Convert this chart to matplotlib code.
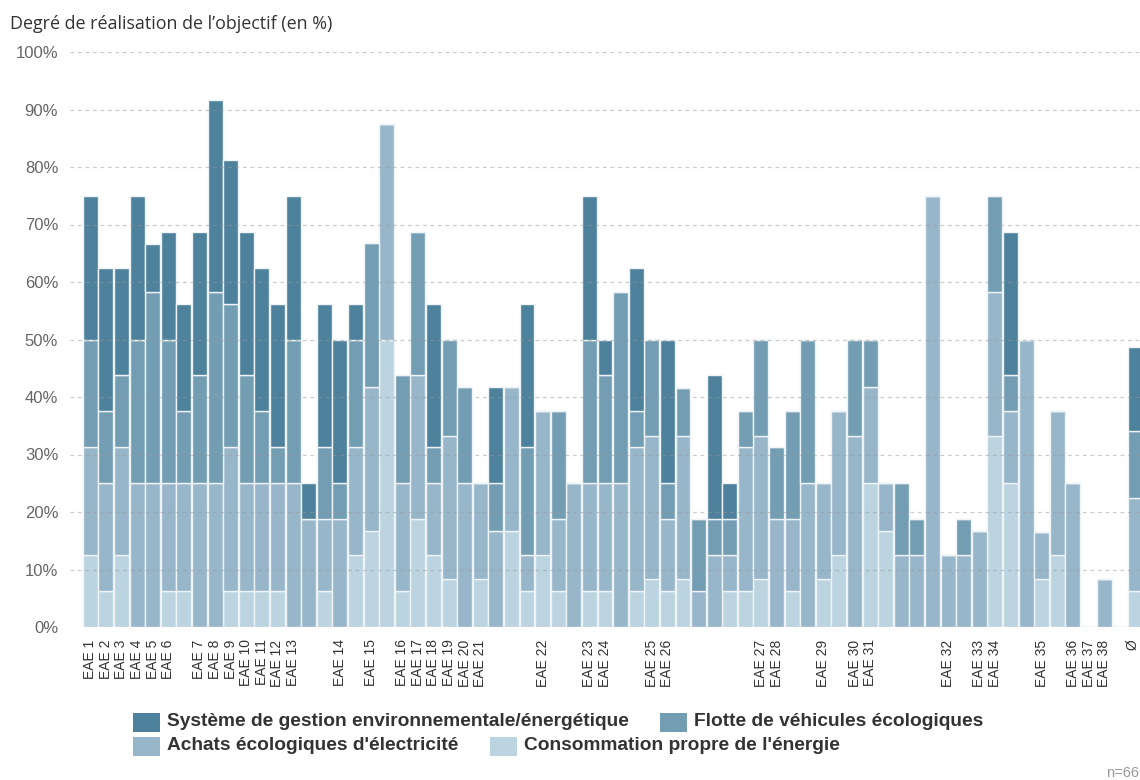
import numpy as np
import matplotlib
matplotlib.use('Agg')
import matplotlib.pyplot as plt
from matplotlib.patches import Rectangle
from matplotlib.transforms import ScaledTranslation

# bar labels ('' = entity without label), last bar is the average
labels = ['EAE 1', 'EAE 2', 'EAE 3', 'EAE 4', 'EAE 5', 'EAE 6', '', 'EAE 7', 'EAE 8', 'EAE 9',
          'EAE 10', 'EAE 11', 'EAE 12', 'EAE 13', '', '', 'EAE 14', '', 'EAE 15', '',
          'EAE 16', 'EAE 17', 'EAE 18', 'EAE 19', 'EAE 20', 'EAE 21', '', '', '', 'EAE 22',
          '', '', 'EAE 23', 'EAE 24', '', '', 'EAE 25', 'EAE 26', '', '',
          '', '', '', 'EAE 27', 'EAE 28', '', '', 'EAE 29', '', 'EAE 30',
          'EAE 31', '', '', '', '', 'EAE 32', '', 'EAE 33', 'EAE 34', '',
          '', 'EAE 35', '', 'EAE 36', 'EAE 37', 'EAE 38', '', 'Ø']

# values in % (stack order: bottom -> top)
conso = [12.5, 6.25, 12.5, 0, 0, 6.25, 6.25, 0, 0, 6.25,
         6.25, 6.25, 6.25, 0, 0, 6.25, 0, 12.5, 16.7, 50,
         6.25, 18.75, 12.5, 8.3, 0, 8.3, 0, 16.7, 6.25, 12.5,
         6.25, 0, 6.25, 6.25, 0, 6.25, 8.3, 6.25, 8.3, 0,
         0, 6.25, 6.25, 8.3, 0, 6.25, 0, 8.3, 12.5, 0,
         25, 16.7, 0, 0, 0, 0, 0, 0, 33.3, 25,
         0, 8.3, 12.5, 0, 0, 0, 0, 6.3]
achats = [18.75, 18.75, 18.75, 25, 25, 18.75, 18.75, 25, 25, 25,
          18.75, 18.75, 18.75, 25, 18.75, 12.5, 18.75, 18.75, 25, 37.5,
          18.75, 25, 12.5, 25, 25, 16.7, 16.7, 25, 6.25, 25,
          12.5, 25, 18.75, 18.75, 25, 25, 25, 12.5, 25, 6.25,
          12.5, 6.25, 25, 25, 18.75, 12.5, 25, 16.7, 25, 33.3,
          16.7, 8.3, 12.5, 12.5, 75, 12.5, 12.5, 16.7, 25, 12.5,
          50, 8.3, 25, 25, 0, 8.3, 0, 16.1]
flotte = [18.75, 12.5, 12.5, 25, 33.3, 25, 12.5, 18.75, 33.3, 25,
          18.75, 12.5, 6.25, 25, 0, 12.5, 6.25, 18.75, 25, 0,
          18.75, 25, 6.25, 16.7, 16.7, 0, 8.3, 0, 18.75, 0,
          18.75, 0, 25, 18.75, 33.3, 6.25, 16.7, 6.25, 8.3, 12.5,
          6.25, 6.25, 6.25, 16.7, 12.5, 18.75, 25, 0, 0, 16.7,
          8.3, 0, 12.5, 6.25, 0, 0, 6.25, 0, 16.7, 6.25,
          0, 0, 0, 0, 0, 0, 0, 11.7]
systeme = [25, 25, 18.75, 25, 8.3, 18.75, 18.75, 25, 33.3, 25,
           25, 25, 25, 25, 6.25, 25, 25, 6.25, 0, 0,
           0, 0, 25, 0, 0, 0, 16.7, 0, 25, 0,
           0, 0, 25, 6.25, 0, 25, 0, 25, 0, 0,
           25, 6.25, 0, 0, 0, 0, 0, 0, 0, 0,
           0, 0, 0, 0, 0, 0, 0, 0, 0, 25,
           0, 0, 0, 0, 0, 0, 0, 14.6]

series = ['Consommation propre de l\'énergie', 'Achats écologiques d\'électricité',
          'Flotte de véhicules écologiques', 'Système de gestion environnementale/énergétique']
colors = ['#bcd3e0', '#97b6ca', '#739db3', '#4e819c']

W, H = 1140, 780
fig = plt.figure(figsize=(W / 100, H / 100), dpi=100)
ax = fig.add_axes([70 / W, (H - 627) / H, (W - 70) / W, (627 - 52) / H])

x = np.arange(len(labels))
bottom = np.zeros(len(labels))
for vals, c in zip([conso, achats, flotte, systeme], colors):
    vals = np.array(vals)
    ax.bar(x, vals, bottom=bottom, width=0.96, color=c, edgecolor='#eef3f6',
           linewidth=1, zorder=2)
    bottom += vals

for v in range(0, 101, 10):
    ax.axhline(v, color='#9a9a9a', lw=0.9, ls=(0, (3, 3)), alpha=0.5, zorder=3)

ax.set_xlim(-1.3, 67.3)
ax.set_ylim(0, 100)
for s in ax.spines.values():
    s.set_visible(False)

ax.set_yticks(range(0, 101, 10))
ax.set_yticklabels([f'{v}%' for v in range(0, 101, 10)], fontsize=12,
                   color='#666666', family='Liberation Sans')
ax.tick_params(axis='y', length=0, pad=8.5)

tick_pos = [i for i, l in enumerate(labels) if l]
ax.set_xticks(tick_pos)
ax.set_xticklabels([labels[i] for i in tick_pos], rotation=90, fontsize=10,
                   color='#333333', family='Liberation Sans', va='top')
ax.tick_params(axis='x', length=0, pad=9)
# keep the last label (Ø) inside the picture
last = ax.get_xticklabels()[-1]
last.set_transform(last.get_transform() + ScaledTranslation(-3 / 100, 0, fig.dpi_scale_trans))

fig.text(10 / W, 1 - 24 / H, 'Degré de réalisation de l’objectif (en %)',
         fontsize=12.9, family='Open Sans', color='#333333', va='center', ha='left')

# legend laid out like the original (flowing items)
leg_items = [(133, 722, 3), (660, 722, 2), (133, 746, 1), (490, 746, 0)]
for lx, ly, k in leg_items:
    fig.add_artist(Rectangle((lx / W, 1 - (ly + 9.5) / H), 27 / W, 19 / H,
                             transform=fig.transFigure, color=colors[k], lw=0))
    fig.text((lx + 34) / W, 1 - ly / H, series[k], fontsize=13.8, fontweight='bold',
             family='Liberation Sans', color='#333333', va='center', ha='left')

fig.text(1106 / W, 1 - 773 / H, 'n=66', fontsize=10.5, family='Liberation Sans',
         color='#999999', va='center', ha='left')

fig.savefig('out.png', dpi=100)
